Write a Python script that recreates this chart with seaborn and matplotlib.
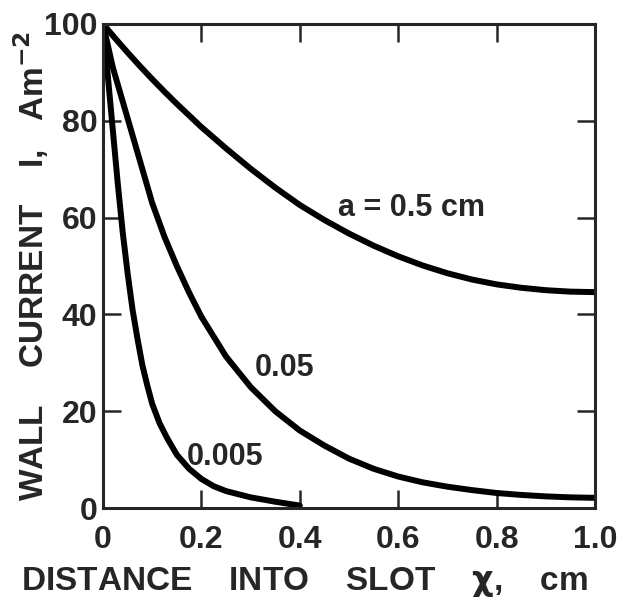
import numpy as np
import pandas as pd
import matplotlib
matplotlib.use('Agg')
import matplotlib.pyplot as plt
import seaborn as sns

# values
x_big = [0, 0.025, 0.05, 0.075, 0.1, 0.125, 0.15, 0.175, 0.2, 0.25, 0.3, 0.35, 0.4,
         0.45, 0.5, 0.55, 0.6, 0.65, 0.7, 0.75, 0.8, 0.85, 0.9, 0.95, 1.0]
i_big = [100, 97, 94.1, 91.3, 88.6, 86, 83.5, 81.1, 78.7, 74.3, 70.1, 66.2, 62.6,
         59.5, 56.7, 54.2, 52, 50.1, 48.5, 47.2, 46.2, 45.5, 45, 44.7, 44.6]

x_mid = [0, 0.02, 0.04, 0.06, 0.08, 0.1, 0.125, 0.15, 0.175, 0.2, 0.25, 0.3, 0.35,
         0.4, 0.45, 0.5, 0.55, 0.6, 0.65, 0.7, 0.75, 0.8, 0.85, 0.9, 0.95, 1.0]
i_mid = [100, 91, 84, 77, 70, 63, 56, 50, 44.5, 39.5, 31.3, 25, 20,
         16, 12.9, 10.2, 8.1, 6.5, 5.3, 4.4, 3.7, 3.1, 2.7, 2.4, 2.2, 2.1]

x_small = [0, 0.01, 0.02, 0.03, 0.04, 0.05, 0.06, 0.07, 0.08, 0.09, 0.1, 0.115,
           0.13, 0.15, 0.175, 0.2, 0.225, 0.25, 0.3, 0.35, 0.4]
i_small = [100, 89, 78, 67, 57, 48.5, 41, 35, 29.5, 25.3, 21.5, 17.5,
           14.5, 11, 8.1, 6, 4.5, 3.5, 2.2, 1.3, 0.5]

curve_labels = ['a = 0.5 cm', '0.05', '0.005']
label_pos = [(0.478, 62), (0.309, 29), (0.171, 10.5)]

sns.set_style('ticks')
plt.rcParams['font.family'] = ['Liberation Sans', 'DejaVu Sans']
plt.rcParams['font.weight'] = 'bold'
plt.rcParams['mathtext.default'] = 'bf'

fig = plt.figure(figsize=(6.18, 5.98), dpi=100)
ax = fig.add_axes([0.1667, 0.1505, 0.7961, 0.8094])

for xs, ys in [(x_big, i_big), (x_mid, i_mid), (x_small, i_small)]:
    df = pd.DataFrame({'x': xs, 'i': ys})
    sns.lineplot(data=df, x='x', y='i', ax=ax, color='black', lw=4.3,
                 sort=False, solid_capstyle='round', solid_joinstyle='round')

for txt, (tx, ty) in zip(curve_labels, label_pos):
    ax.text(tx, ty, txt, fontsize=22, fontweight='bold', va='center', ha='left')

ax.set_xlim(0, 1.0)
ax.set_ylim(0, 100)
ax.set_xticks([0, 0.2, 0.4, 0.6, 0.8, 1.0])
ax.set_xticklabels(['0', '0.2', '0.4', '0.6', '0.8', '1.0'])
ax.set_yticks([0, 20, 40, 60, 80, 100])
ax.tick_params(direction='in', length=13, width=1.8, top=True, right=True,
               labelsize=23)
ax.tick_params(axis='x', pad=12)
ax.tick_params(axis='y', pad=4)
for lab in ax.get_xticklabels() + ax.get_yticklabels():
    lab.set_fontweight('bold')
for sp in ax.spines.values():
    sp.set_linewidth(2.2)
    sp.set_visible(True)

ax.set_xlabel(r'DISTANCE    INTO    SLOT    $\chi$,    cm', fontsize=24,
              fontweight='bold')
ax.set_ylabel(r'WALL    CURRENT    I,   Am$^{-2}$', fontsize=24,
              fontweight='bold')
ax.xaxis.set_label_coords(0.41, -0.118)
ax.yaxis.set_label_coords(-0.105, 0.5)

fig.savefig('out.png', dpi=100)
